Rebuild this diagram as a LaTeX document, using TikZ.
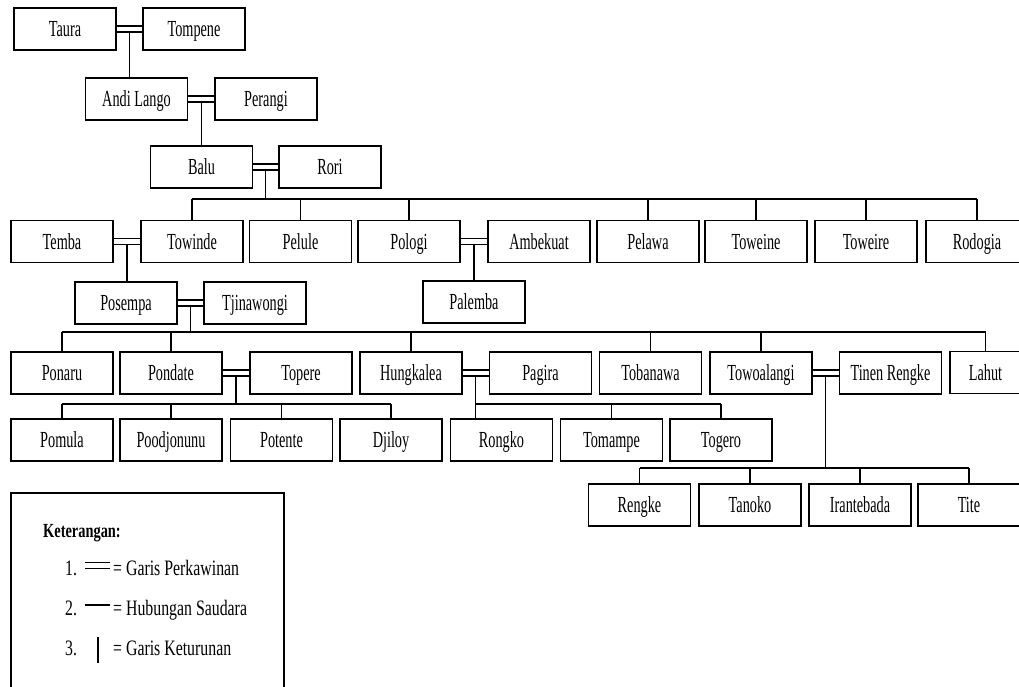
\documentclass[tikz,border=0pt]{standalone}
\usepackage{fontspec}
\usepackage{tikz}
\usetikzlibrary{calc}
\newfontfamily\treefont[FakeStretch=0.62]{Liberation Serif}
\newfontfamily\notefont[FakeStretch=0.72]{Liberation Serif}
\tikzset{
  person/.style={draw, line width=1.5pt, minimum width=102pt, minimum height=42pt,
    inner sep=0pt, text height=15pt, text depth=0pt,
    font=\treefont\fontsize{23}{23}\selectfont},
  line/.style={line width=1.2pt},
  wed/.style={line width=1.2pt, double, double distance=4.8pt},
  note/.style={inner sep=0pt, anchor=base west, font=\notefont\fontsize{22}{22}\selectfont}
}
\begin{document}
\begin{tikzpicture}[x=1pt,y=-1pt]
\useasboundingbox (0,0) rectangle (1019,686);
\node[person] (taura) at (65,29) {Taura};
\node[person] (tompene) at (194,29) {Tompene};
\node[person] (andi) at (136.5,99) {Andi Lango};
\node[person] (perangi) at (266,99) {Perangi};
\node[person] (balu) at (201.5,167) {Balu};
\node[person] (rori) at (330,167) {Rori};
\node[person] (temba) at (62,241.5) {Temba};
\node[person] (towinde) at (192,241.5) {Towinde};
\node[person] (pelule) at (300.5,241.5) {Pelule};
\node[person] (pologi) at (409,241.5) {Pologi};
\node[person] (ambekuat) at (539,241.5) {Ambekuat};
\node[person] (pelawa) at (648,241.5) {Pelawa};
\node[person] (toweine) at (756,241.5) {Toweine};
\node[person] (toweire) at (866,241.5) {Toweire};
\node[person] (rodogia) at (977,241.5) {Rodogia};
\node[person] (posempa) at (126,303) {Posempa};
\node[person] (tjinawongi) at (255,303) {Tjinawongi};
\node[person] (palemba) at (474,302) {Palemba};
\node[person] (ponaru) at (62,373) {Ponaru};
\node[person] (pondate) at (171,373) {Pondate};
\node[person] (topere) at (301,373) {Topere};
\node[person] (hungkalea) at (411,373) {Hungkalea};
\node[person] (pagira) at (540.5,373) {Pagira};
\node[person] (tobanawa) at (650.5,373) {Tobanawa};
\node[person] (towoalangi) at (761,373) {Towoalangi};
\node[person] (tinen) at (890.5,373) {Tinen Rengke};
\node[person, minimum width=71pt] (lahut) at (985.5,372.5) {Lahut};
\node[person] (pomula) at (62,440) {Pomula};
\node[person] (poodjonunu) at (171,440) {Poodjonunu};
\node[person] (potente) at (281.5,440) {Potente};
\node[person] (djiloy) at (391,440) {Djiloy};
\node[person] (rongko) at (501.5,440) {Rongko};
\node[person] (tomampe) at (611.5,440) {Tomampe};
\node[person] (togero) at (721,440) {Togero};
\node[person] (rengke) at (639.5,505) {Rengke};
\node[person] (tanoko) at (750,505) {Tanoko};
\node[person] (irantebada) at (860,505) {Irantebada};
\node[person] (tite) at (969,505) {Tite};
\draw[wed] (taura) -- (tompene);
\draw[wed] (andi) -- (perangi);
\draw[wed] (balu) -- (rori);
\draw[wed] (temba) -- (towinde);
\draw[wed] (pologi) -- (ambekuat);
\draw[wed] (posempa) -- (tjinawongi);
\draw[wed] (pondate) -- (topere);
\draw[wed] (hungkalea) -- (pagira);
\draw[wed] (towoalangi) -- (tinen);
\coordinate (m1) at ($(taura.east)!0.5!(tompene.west)$);
\coordinate (m2) at ($(andi.east)!0.5!(perangi.west)$);
\coordinate (m3) at ($(balu.east)!0.5!(rori.west)$);
\coordinate (m4) at ($(temba.east)!0.5!(towinde.west)$);
\coordinate (m5) at ($(pologi.east)!0.5!(ambekuat.west)$);
\coordinate (m6) at ($(posempa.east)!0.5!(tjinawongi.west)$);
\coordinate (m7) at ($(pondate.east)!0.5!(topere.west)$);
\coordinate (m8) at ($(hungkalea.east)!0.5!(pagira.west)$);
\coordinate (m9) at ($(towoalangi.east)!0.5!(tinen.west)$);
\coordinate (b3) at (0,199);
\coordinate (b6) at (0,332);
\coordinate (b7) at (0,404);
\coordinate (b9) at (0,468);
\draw[line] ([yshift=-3pt]m1) -- (m1 |- andi.north);
\draw[line] ([yshift=-3pt]m2) -- (m2 |- balu.north);
\draw[line] ([yshift=-3pt]m4) -- (m4 |- posempa.north);
\draw[line] ([yshift=-3pt]m5) -- (m5 |- palemba.north);
\draw[line] ([yshift=-3pt]m3) -- (m3 |- b3);
\draw[line] (b3 -| towinde) -- (b3 -| rodogia);
\foreach \c in {towinde,pelule,pologi,pelawa,toweine,toweire,rodogia}
  \draw[line] (b3 -| \c) -- (\c.north);
\draw[line] ([yshift=-3pt]m6) -- (m6 |- b6);
\draw[line] (b6 -| ponaru) -- (b6 -| lahut);
\foreach \c in {ponaru,pondate,hungkalea,tobanawa,towoalangi,lahut}
  \draw[line] (b6 -| \c) -- (\c.north);
\draw[line] ([yshift=-3pt]m7) -- (m7 |- b7);
\draw[line] (b7 -| pomula) -- (b7 -| djiloy);
\foreach \c in {pomula,poodjonunu,potente,djiloy}
  \draw[line] (b7 -| \c) -- (\c.north);
\draw[line] ([yshift=-3pt]m8) -- (m8 |- rongko.north);
\draw[line] (b7 -| m8) -- (b7 -| togero);
\foreach \c in {tomampe,togero}
  \draw[line] (b7 -| \c) -- (\c.north);
\draw[line] ([yshift=-3pt]m9) -- (m9 |- b9);
\draw[line] (b9 -| rengke) -- (b9 -| tite);
\foreach \c in {rengke,tanoko,irantebada,tite}
  \draw[line] (b9 -| \c) -- (\c.north);
\draw[line width=1.5pt] (11,700) |- (284,493) -- (284,700);
\node[note, font=\notefont\fontsize{20}{20}\selectfont\bfseries] (ket) at (43,537) {Keterangan:};
\node[note] (n1) at (65,575) {1.};
\node[note] (t1) at (113,575) {= Garis Perkawinan};
\node[note] (n2) at (65,615) {2.};
\node[note] (t2) at (113,615) {= Hubungan Saudara};
\node[note] (n3) at (65,655) {3.};
\node[note] (t3) at (113,655) {= Garis Keturunan};
\draw[wed] (85,565.5) -- (110,565.5);
\draw[line] (85,605) -- (110,605);
\draw[line] (98,637) -- (98,663);
\end{tikzpicture}
\end{document}
